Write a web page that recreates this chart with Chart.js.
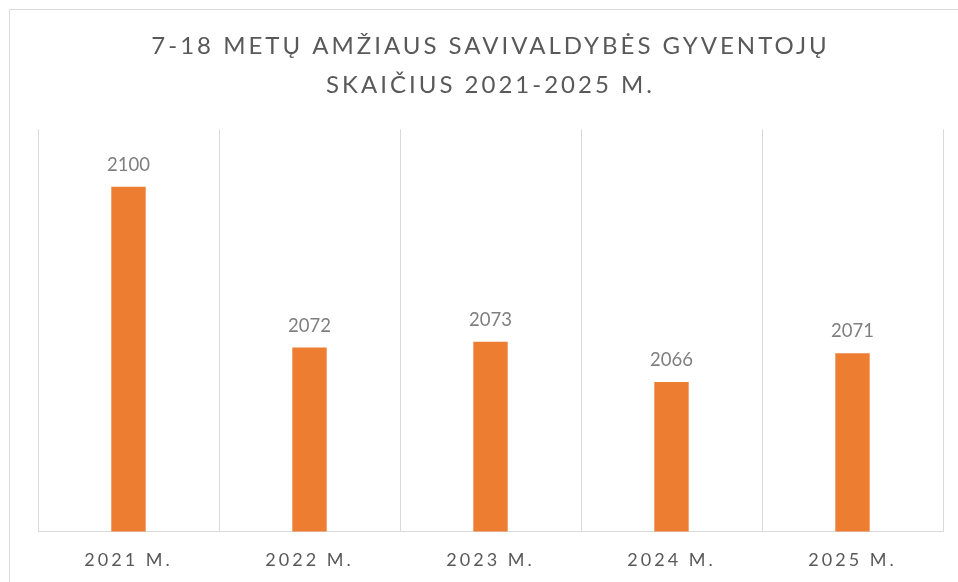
<!DOCTYPE html>
<html>
<head>
<meta charset="utf-8">
<script src="https://cdn.jsdelivr.net/npm/chart.js@4.4.1/dist/chart.umd.min.js"></script>
<style>
  body { margin: 0; background: #fff; }
  .frame { position: absolute; left: 9px; top: 9px; width: 1000px; height: 1000px; border: 1px solid #d9d9d9; }
  .wrap { position: absolute; left: 0; top: 0; width: 958px; height: 582px; }
</style>
</head>
<body>
<div class="frame"></div>
<div class="wrap"><canvas id="popChart" width="958" height="582"></canvas></div>
<script>
const years = ["2021 M.", "2022 M.", "2023 M.", "2024 M.", "2025 M."];
const residents = [2100, 2072, 2073, 2066, 2071];
const titleLines = ["7-18 METŲ AMŽIAUS SAVIVALDYBĖS GYVENTOJŲ", "SKAIČIUS 2021-2025 M."];

// spaced caps for title and axis, plain digits for the values
const spacing = {
  id: "spacing",
  beforeDraw: (chart) => {
    chart.ctx.letterSpacing = "3px";
  },
  afterDatasetsDraw: (chart) => {
    const ctx = chart.ctx;
    ctx.save();
    ctx.letterSpacing = "0px";
    ctx.font = "18.5px Lato";
    ctx.fillStyle = "#7f7f7f";
    ctx.textAlign = "center";
    ctx.textBaseline = "middle";
    chart.getDatasetMeta(0).data.forEach((bar, i) => {
      ctx.fillText(residents[i], bar.x, bar.y - 22);
    });
    ctx.restore();
    ctx.letterSpacing = "4.5px";
  },
};

const ctx = document.getElementById("popChart").getContext("2d");
new Chart(ctx, {
  type: "bar",
  data: {
    labels: years,
    datasets: [
      {
        data: residents,
        backgroundColor: "#ed7d31",
        barPercentage: 0.19,
        categoryPercentage: 1,
      },
    ],
  },
  options: {
    responsive: false,
    animation: false,
    layout: {
      padding: { left: 38, right: 15, top: 0, bottom: -7 },
    },
    scales: {
      x: {
        grid: {
          color: "#d9d9d9",
          drawTicks: false,
        },
        border: { color: "#d9d9d9" },
        ticks: {
          color: "#595959",
          padding: 18,
          font: { family: "Lato", size: 18 },
        },
      },
      y: {
        display: false,
        min: 2040,
        max: 2110,
      },
    },
    plugins: {
      legend: { display: false },
      tooltip: { enabled: false },
      title: {
        display: true,
        text: titleLines,
        color: "#595959",
        font: { family: "Lato", size: 24, weight: "normal", lineHeight: 1.65 },
        padding: { top: 26, bottom: 24 },
      },
    },
  },
  plugins: [spacing],
});
</script>
</body>
</html>
